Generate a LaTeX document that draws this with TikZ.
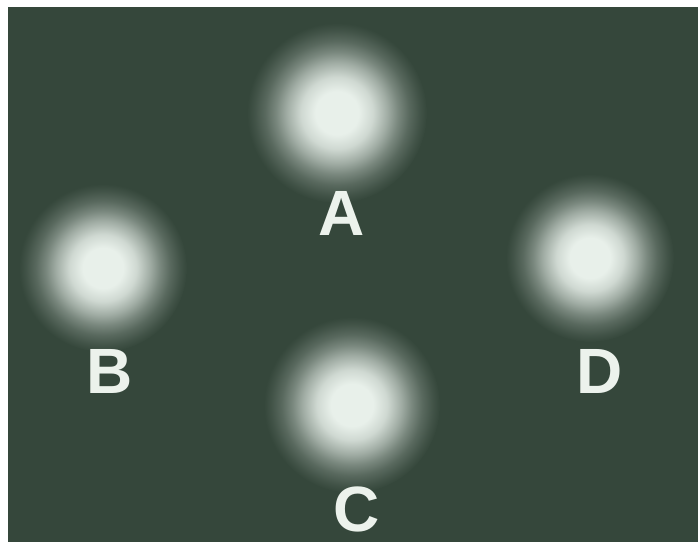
\documentclass[tikz,border=0pt]{standalone}
\usepackage{fontspec}
\setmainfont{Liberation Sans}
\definecolor{bgc}{RGB}{53,71,59}
\definecolor{glowc}{RGB}{232,240,234}
\definecolor{labelc}{RGB}{236,242,236}
\pgfdeclareradialshading{glow}{\pgfpoint{0bp}{0bp}}{%
  color(0bp)=(glowc); color(6bp)=(glowc); color(10bp)=(glowc!86!bgc);
  color(14bp)=(glowc!60!bgc); color(17bp)=(glowc!38!bgc);
  color(20bp)=(glowc!20!bgc); color(23bp)=(glowc!7!bgc);
  color(25bp)=(bgc); color(50bp)=(bgc)}
\begin{document}
\begin{tikzpicture}[x=1pt,y=-1pt,
  blob/.style={shading=glow},
  lbl/.style={anchor=base,inner sep=0pt,text=labelc,font=\fontsize{64}{64}\selectfont\bfseries}]
\useasboundingbox (0,0) rectangle (698,542);
\fill[white] (0,0) rectangle (698,542);
\fill[bgc] (8,7) rectangle (698,542);
\shade[blob] (337,113) circle (90);
\shade[blob] (103,268) circle (84);
\shade[blob] (590,258) circle (84);
\shade[blob] (352,405) circle (88);
\node[lbl] (la) at (342,235) {A};
\node[lbl] (lb) at (110,393) {B};
\node[lbl] (ld) at (600,393) {D};
\node[lbl] (lc) at (357,531) {C};
\end{tikzpicture}
\end{document}
